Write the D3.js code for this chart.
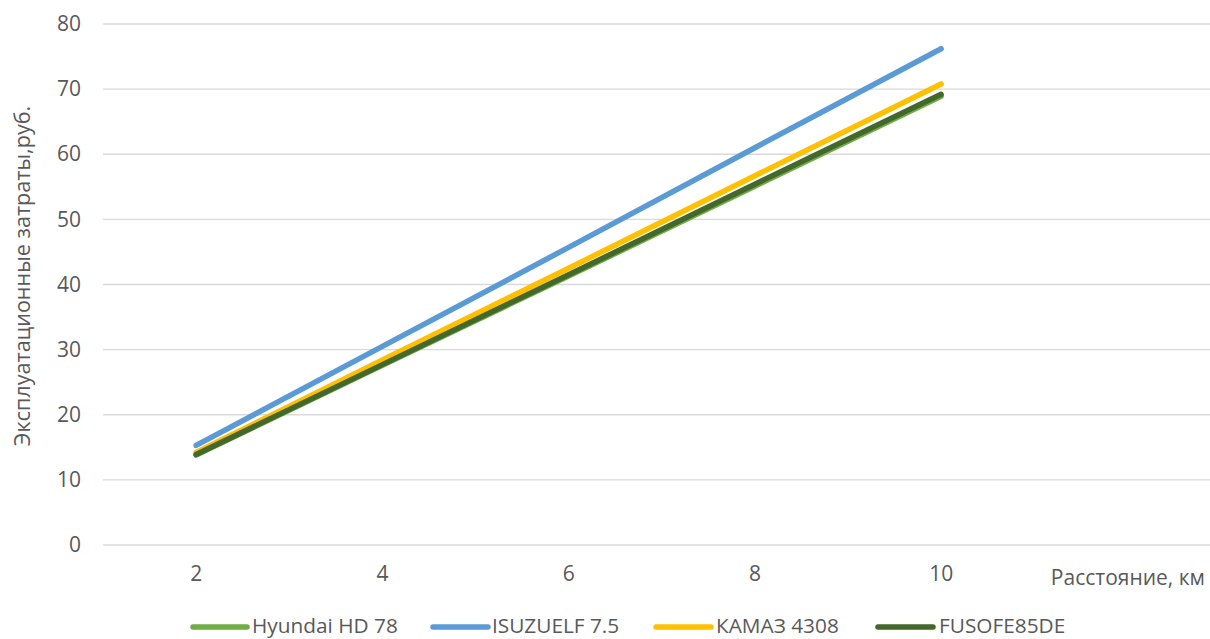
<!DOCTYPE html>
<html><head><meta charset="utf-8">
<script src="https://cdn.jsdelivr.net/npm/d3@7"></script>
<style>body{margin:0;background:#fff}svg{display:block}text{font-family:"Open Sans",sans-serif;fill:#595959}</style>
</head><body><svg id="c" width="1210" height="639"></svg>
<script>
const categories = ["2","4","6","8","10",""];
const seriesNames = ["Hyundai HD 78","ISUZUELF 7.5","КАМАЗ 4308","FUSOFE85DE"];
const hyundai = [13.8, 27.6, 41.3, 55.1, 68.9];
const isuzu   = [15.3, 30.5, 45.7, 61.0, 76.2];
const kamaz   = [14.2, 28.4, 42.5, 56.7, 70.8];
const fuso    = [13.9, 27.7, 41.5, 55.4, 69.2];
const yTicks = [0,10,20,30,40,50,60,70,80];
const colors = ["#70AD47","#5B9BD5","#FFC000","#43682B"];
const series = [hyundai, isuzu, kamaz, fuso];

const svg = d3.select("#c");
const x = d3.scaleBand().domain(categories).range([103, 103 + 6*186.25]);
const y = d3.scaleLinear().domain([0,80]).range([545, 24]);

// gridlines
svg.append("g").selectAll("line").data(yTicks).join("line")
  .attr("x1",103).attr("x2",1210).attr("y1",d=>y(d)).attr("y2",d=>y(d))
  .attr("stroke","#D9D9D9").attr("stroke-width",1.3);

// y axis labels
const yAxis = d3.axisLeft(y).tickValues(yTicks).tickSize(0).tickPadding(0);
const gy = svg.append("g").attr("transform","translate(81,0)").call(yAxis);
gy.select(".domain").remove();
gy.selectAll("text").attr("font-size",21).attr("fill","#595959").style("font-family","Open Sans");

// x axis labels
const xAxis = d3.axisBottom(x).tickValues(categories.slice(0,5)).tickSize(0).tickPadding(0);
const gx = svg.append("g").attr("transform","translate(0,566)").call(xAxis);
gx.select(".domain").remove();
gx.selectAll("text").attr("font-size",21).attr("fill","#595959").attr("dy","0.71em").style("font-family","Open Sans");

// x title
svg.append("text").attr("x",1205).attr("y",585).attr("text-anchor","end").attr("font-size",21).text("Расстояние, км");
// y title
svg.append("text").attr("transform","translate(30,276) rotate(-90)").attr("text-anchor","middle").attr("font-size",21.6).text("Эксплуатационные затраты,руб.");

// lines
const line = d3.line().x((d,i)=>x(categories[i]) + x.bandwidth()/2).y(d=>y(d));
svg.append("g").selectAll("path").data(series).join("path")
  .attr("d",line).attr("fill","none").attr("stroke",(d,i)=>colors[i])
  .attr("stroke-width",5.5).attr("stroke-linecap","round").attr("stroke-linejoin","round");

// legend
const legX = [[193,247,252],[433,488,492],[656,711,716],[878,933,939]];
const lg = svg.append("g");
seriesNames.forEach((n,i)=>{
  lg.append("line").attr("x1",legX[i][0]).attr("x2",legX[i][1]).attr("y1",627).attr("y2",627)
    .attr("stroke",colors[i]).attr("stroke-width",5.5).attr("stroke-linecap","round");
  lg.append("text").attr("x",legX[i][2]).attr("y",633).attr("font-size",20.8).text(n);
});
</script></body></html>
